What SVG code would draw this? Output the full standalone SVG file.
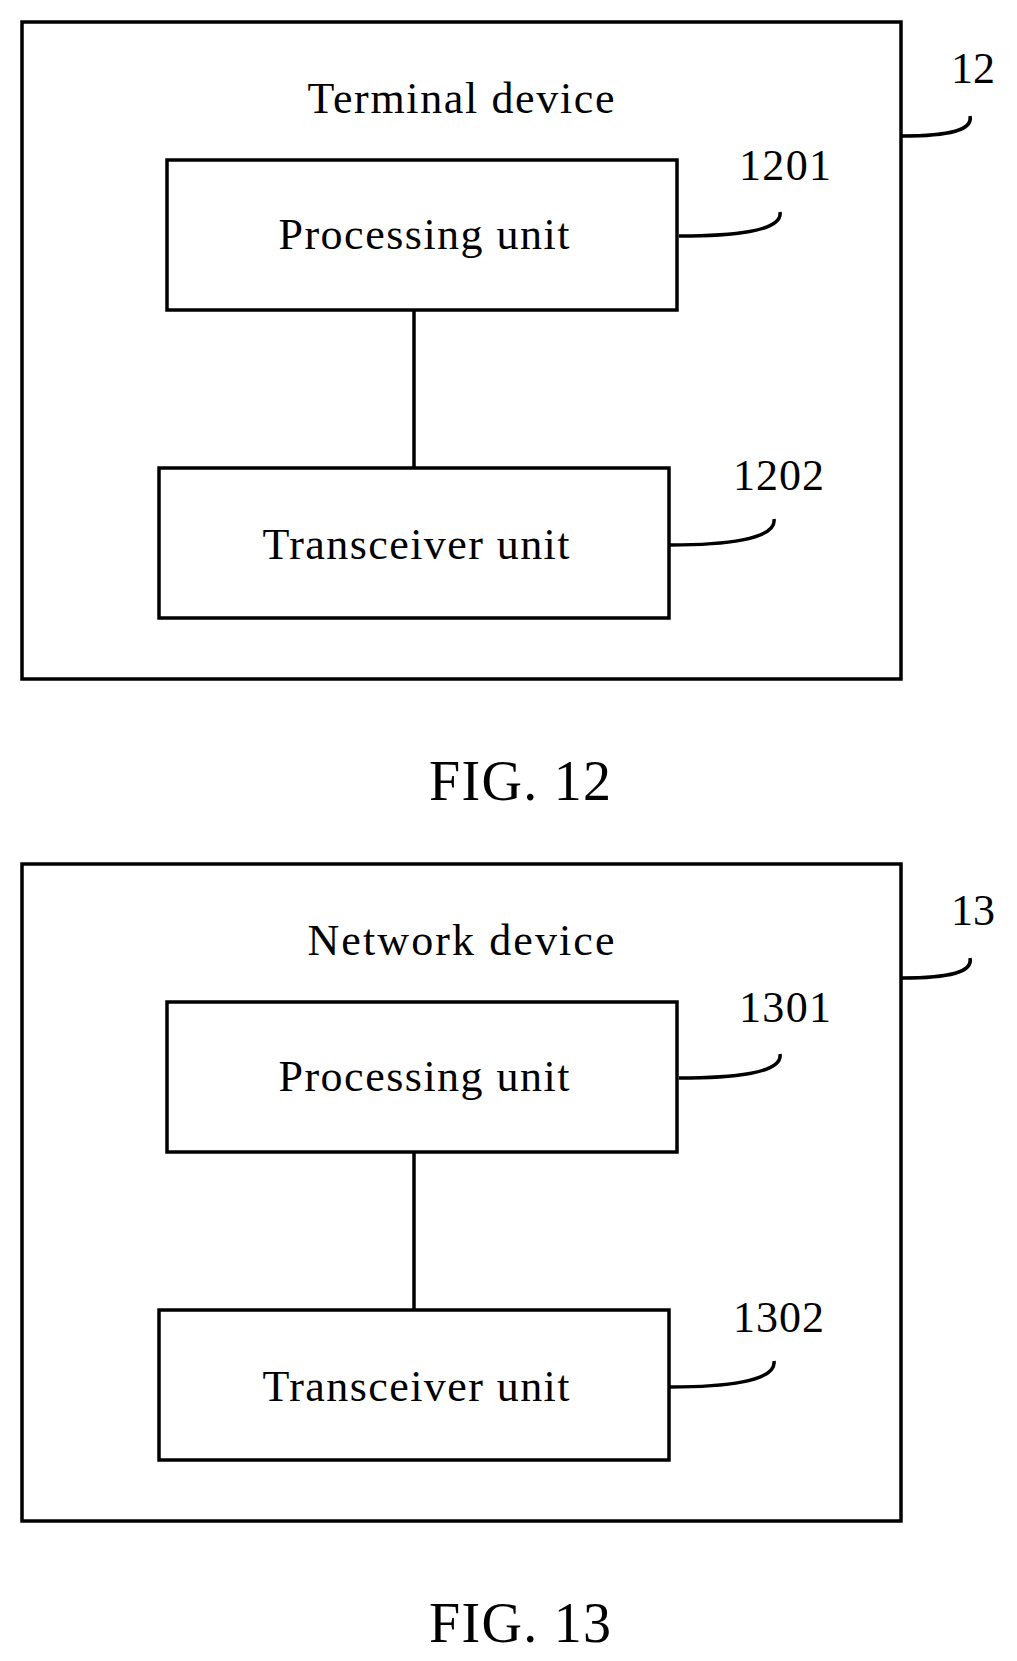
<svg xmlns="http://www.w3.org/2000/svg" width="1017" height="1661" viewBox="0 0 1017 1661">
<style>
rect{fill:none;stroke:#000;stroke-width:3.5}
path,line{fill:none;stroke:#000;stroke-width:3.5}
text{font-family:"Liberation Serif","Times New Roman",serif;fill:#000;font-size:44px}
.c{text-anchor:middle}
.f{font-size:56px}
</style>
<rect width="1017" height="1661" fill="#fff" style="stroke:none;fill:#fff"/>
<g id="fig12">
<g id="terminal"><rect x="22" y="22" width="879" height="657"/><text class="c" x="461" y="113" textLength="307">Terminal device</text></g>
<g id="proc12"><rect x="167" y="160" width="510" height="150"/><text class="c" x="424" y="249" textLength="291">Processing unit</text></g>
<g id="trans12"><rect x="159" y="468" width="510" height="150"/><text class="c" x="416" y="559" textLength="307">Transceiver unit</text></g>
<g id="connectors12">
<line x1="414" y1="310" x2="414" y2="468"/>
<path d="M679 236 C730 236 783 232 780 212"/>
<path d="M670 545 C722 545 777 540 774 519"/>
<path d="M902 136 C950 136 973 130 970 116"/>
</g>
<text x="739" y="180" textLength="92">1201</text>
<text x="733" y="490" textLength="91">1202</text>
<text x="951" y="83">12</text>
<text class="c f" x="520" y="800" textLength="182">FIG. 12</text>
</g>
<g id="fig13" transform="translate(0,842)">
<g id="network"><rect x="22" y="22" width="879" height="657"/><text class="c" x="461" y="113" textLength="307">Network device</text></g>
<g id="proc13"><rect x="167" y="160" width="510" height="150"/><text class="c" x="424" y="249" textLength="291">Processing unit</text></g>
<g id="trans13"><rect x="159" y="468" width="510" height="150"/><text class="c" x="416" y="559" textLength="307">Transceiver unit</text></g>
<g id="connectors13">
<line x1="414" y1="310" x2="414" y2="468"/>
<path d="M679 236 C730 236 783 232 780 212"/>
<path d="M670 545 C722 545 777 540 774 519"/>
<path d="M902 136 C950 136 973 130 970 116"/>
</g>
<text x="739" y="180" textLength="92">1301</text>
<text x="733" y="490" textLength="91">1302</text>
<text x="951" y="83">13</text>
<text class="c f" x="520" y="800" textLength="182">FIG. 13</text>
</g>
</svg>
